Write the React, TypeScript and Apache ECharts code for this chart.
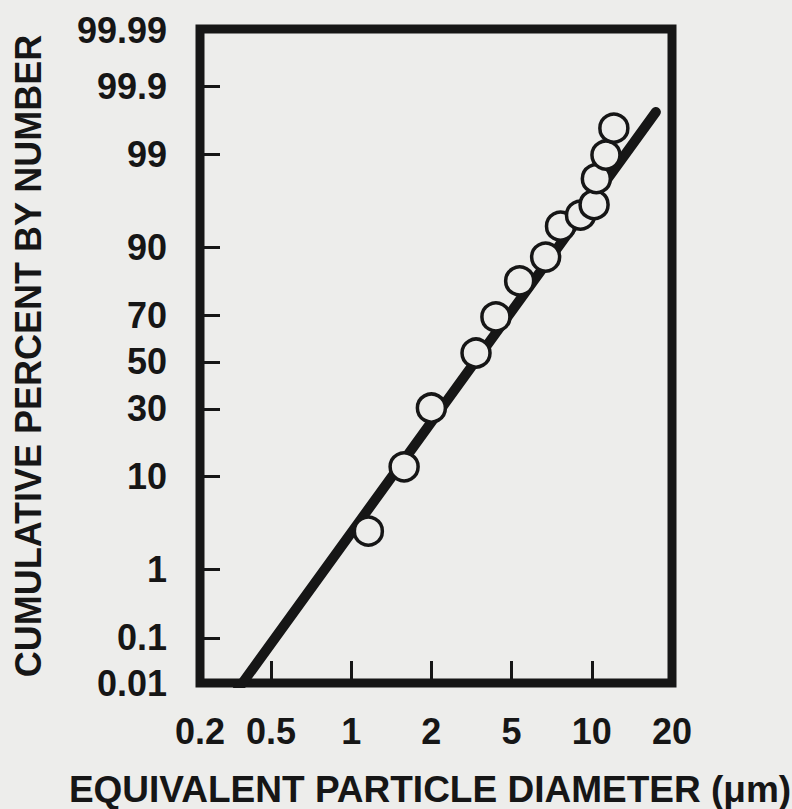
import React, { useEffect, useRef } from "react";
import * as echarts from "echarts";

// ---- data ----
const xTickValues = [0.2, 0.5, 1, 2, 5, 10, 20];
const xTickLabels = ["0.2", "0.5", "1", "2", "5", "10", "20"];
const xTickMarks = [0.5, 1, 2, 5, 10];

const yTickValues = [0.01, 0.1, 1, 10, 30, 50, 70, 90, 99, 99.9, 99.99];
const yTickLabels = ["0.01", "0.1", "1", "10", "30", "50", "70", "90", "99", "99.9", "99.99"];
const yTickMarks = [0.1, 1, 10, 30, 50, 70, 90, 99, 99.9];

// measured points: equivalent particle diameter (µm) vs cumulative percent by number
const diameters = [1.16, 1.58, 2.0, 3.33, 4.18, 5.36, 6.71, 7.63, 9.07, 10.2, 10.4, 11.3, 12.1];
const cumPercent = [2.9, 12.0, 30.3, 54.0, 69.3, 81.8, 88.0, 93.6, 95.0, 96.1, 98.0, 98.98, 99.56];

// fitted log-normal line
const fitDiameters = [0.33, 17.4];
const fitPercent = [0.01, 99.745];

// ---- scales ----
function probit(p: number): number {
  const a = [-3.969683028665376e1, 2.209460984245205e2, -2.759285104469687e2, 1.38357751867269e2, -3.066479806614716e1, 2.506628277459239];
  const b = [-5.447609879822406e1, 1.615858368580409e2, -1.556989798598866e2, 6.680131188771972e1, -1.328068155288572e1];
  const c = [-7.784894002430293e-3, -3.223964580411365e-1, -2.400758277161838, -2.549732539343734, 4.374664141464968, 2.938163982698783];
  const d = [7.784695709041462e-3, 3.224671290700398e-1, 2.445134137142996, 3.754408661907416];
  const plow = 0.02425;
  if (p < plow) {
    const q = Math.sqrt(-2 * Math.log(p));
    return (((((c[0] * q + c[1]) * q + c[2]) * q + c[3]) * q + c[4]) * q + c[5]) /
      ((((d[0] * q + d[1]) * q + d[2]) * q + d[3]) * q + 1);
  }
  if (p <= 1 - plow) {
    const q = p - 0.5;
    const r = q * q;
    return ((((((a[0] * r + a[1]) * r + a[2]) * r + a[3]) * r + a[4]) * r + a[5]) * q) /
      (((((b[0] * r + b[1]) * r + b[2]) * r + b[3]) * r + b[4]) * r + 1);
  }
  const q = Math.sqrt(-2 * Math.log(1 - p));
  return -(((((c[0] * q + c[1]) * q + c[2]) * q + c[3]) * q + c[4]) * q + c[5]) /
    ((((d[0] * q + d[1]) * q + d[2]) * q + d[3]) * q + 1);
}

// x: tick values evenly spaced, log-interpolated between ticks (as drawn in the figure)
function xPos(v: number): number {
  const t = xTickValues;
  let i = 0;
  while (i < t.length - 2 && v > t[i + 1]) i++;
  return i + Math.log(v / t[i]) / Math.log(t[i + 1] / t[i]);
}
const yPos = (pct: number) => probit(pct / 100);

const X_MIN = 0.115;
const X_MAX = 6;
const Y_MIN = -3.597;
const Y_MAX = 3.731;

const clamp = (v: number, lo: number, hi: number) => Math.min(hi, Math.max(lo, v));

const xLabelPos = xTickValues.map((v) => clamp(xPos(v), X_MIN, X_MAX));
const yLabelPos = yTickValues.map((v) => clamp(yPos(v), Y_MIN, Y_MAX));

const BG = "#ededeb";
const INK = "#161616";
const FONT = "'Liberation Sans', Arial, Helvetica, sans-serif";

export default function App() {
  const ref = useRef<HTMLDivElement>(null);
  useEffect(() => {
    if (!ref.current) return;
    const chart = echarts.init(ref.current, undefined, { renderer: "svg" });
    const findLabel = (pos: number[], labels: string[], v: number) => {
      let best = 0;
      for (let i = 0; i < pos.length; i++) if (Math.abs(pos[i] - v) < Math.abs(pos[best] - v)) best = i;
      return labels[best];
    };
    chart.setOption({
      animation: false,
      backgroundColor: BG,
      grid: {
        left: 200,
        top: 29,
        width: 472,
        height: 654,
        show: true,
        borderWidth: 9,
        borderColor: INK,
        backgroundColor: "transparent",
      },
      xAxis: {
        type: "value",
        min: X_MIN,
        max: X_MAX,
        axisLine: { show: false, onZero: false },
        splitLine: { show: false },
        axisTick: {
          show: true,
          inside: true,
          length: 22,
          customValues: xTickMarks.map(xPos),
          lineStyle: { color: INK, width: 3 },
        },
        axisLabel: {
          customValues: xLabelPos,
          formatter: (v: number) => findLabel(xLabelPos, xTickLabels, v),
          margin: 30,
          color: INK,
          fontSize: 36,
          fontWeight: "bold",
          fontFamily: FONT,
        },
      },
      yAxis: {
        type: "value",
        min: Y_MIN,
        max: Y_MAX,
        axisLine: { show: false, onZero: false },
        splitLine: { show: false },
        axisTick: {
          show: true,
          inside: true,
          length: 20,
          customValues: yTickMarks.map(yPos),
          lineStyle: { color: INK, width: 3 },
        },
        axisLabel: {
          customValues: yLabelPos,
          formatter: (v: number) => findLabel(yLabelPos, yTickLabels, v),
          margin: 33,
          color: INK,
          fontSize: 36,
          fontWeight: "bold",
          fontFamily: FONT,
        },
      },
      series: [
        {
          type: "line",
          data: fitDiameters.map((d, i) => [xPos(d), yPos(fitPercent[i])]),
          showSymbol: false,
          clip: true,
          lineStyle: { color: INK, width: 10, cap: "round" },
          z: 2,
        },
        {
          type: "scatter",
          data: diameters.map((d, i) => [xPos(d), yPos(cumPercent[i])]),
          symbol: "circle",
          symbolSize: 28,
          itemStyle: { color: BG, borderColor: INK, borderWidth: 3.5, opacity: 1 },
          z: 3,
        },
      ],
      graphic: [
        {
          type: "text",
          x: 28,
          y: 356,
          rotation: Math.PI / 2,
          style: {
            text: "CUMULATIVE PERCENT BY NUMBER",
            fill: INK,
            font: `bold 36px ${FONT}`,
            align: "center",
            verticalAlign: "middle",
            textAlign: "center",
            textVerticalAlign: "middle",
          },
        },
        {
          type: "text",
          x: 430,
          y: 789,
          style: {
            text: "EQUIVALENT PARTICLE DIAMETER (μm)",
            fill: INK,
            font: `bold 37px ${FONT}`,
            align: "center",
            verticalAlign: "middle",
            textAlign: "center",
            textVerticalAlign: "middle",
          },
        },
      ],
    });
    return () => chart.dispose();
  }, []);
  return (
    <div
      ref={ref}
      style={{ position: "absolute", left: 0, top: 0, width: 792, height: 809, background: BG }}
    />
  );
}
